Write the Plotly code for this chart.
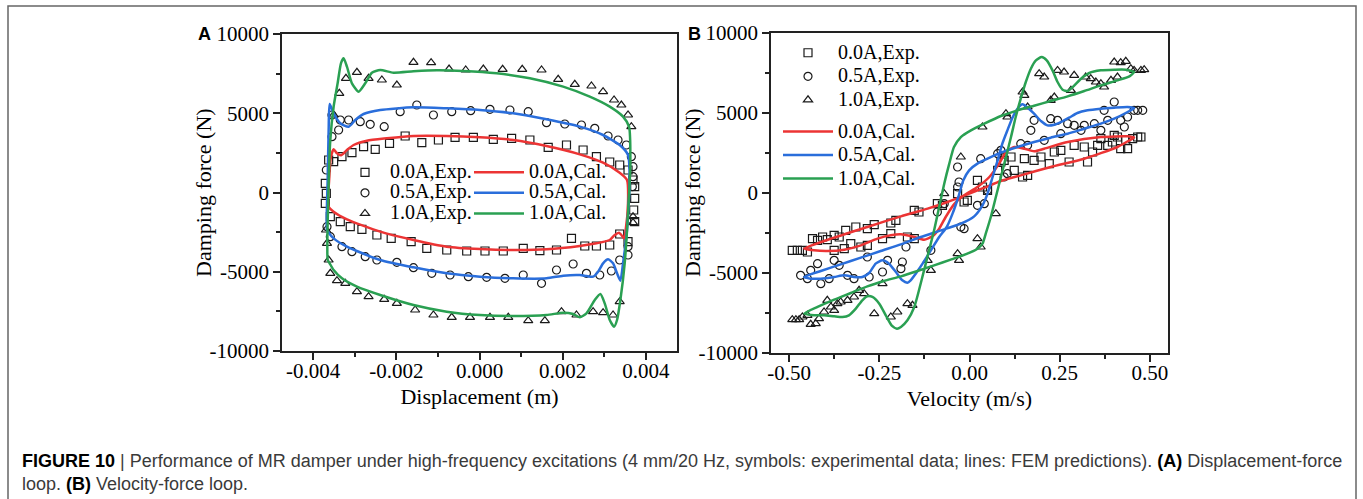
import plotly.graph_objects as go

# ---------------- Panel A: displacement (m) vs damping force (N) ----------------
a_cal00_x = [-0.003628, -0.003612, -0.003572, -0.003508, -0.003428, -0.003332, -0.003188, -0.003028, -0.002708,
             -0.002228, -0.001588, -0.000788, 0.000012, 0.000812, 0.001612, 0.002412, 0.002972, 0.003372, 0.003548,
             0.003572, 0.003516, 0.003476, 0.003412, 0.003356, 0.003252, 0.003132, 0.002812, 0.002412, 0.001612,
             0.000812, 0.000012, -0.000788, -0.001588, -0.002388, -0.003188, -0.003508]
a_cal00_y = [-894, 999, 2261, 2724, 2471, 2345, 2682, 2997, 3270, 3417, 3565, 3565, 3480, 3312, 2934, 2408, 1882,
             1251, 789, -683, -2366, -2892, -2681, -2534, -2681, -2997, -3207, -3375, -3586, -3628, -3565, -3417,
             -2997, -2471, -1693, -1209]

a_cal05_x = [-0.003668, -0.003652, -0.003628, -0.003604, -0.003508, -0.003348, -0.003148, -0.002988, -0.002788,
             -0.002388, -0.001588, -0.000788, 0.000012, 0.000812, 0.001612, 0.002412, 0.002972, 0.003372, 0.003572,
             0.003612, 0.003548, 0.003452, 0.003388, 0.003308, 0.003212, 0.003092, 0.002972, 0.002852, 0.002732,
             0.002572, 0.002412, 0.002012, 0.001612, 0.000812, 0.000012, -0.000788, -0.001588, -0.002388, -0.003188,
             -0.003508, -0.003628]
a_cal05_y = [-2366, 789, 3943, 5583, 4995, 4364, 4153, 4574, 4953, 5205, 5373, 5310, 5205, 4995, 4616, 4153, 3628,
             2997, 2366, 789, -2366, -4469, -5562, -5100, -4469, -4217, -4469, -4995, -5310, -5268, -5205, -5247,
             -5415, -5415, -5310, -5100, -4721, -4259, -3417, -2892, -2534]

a_cal10_x = [-0.00365, -0.003636, -0.003588, -0.003508, -0.003412, -0.003332, -0.003268, -0.003188, -0.003068,
             -0.002908, -0.002748, -0.002588, -0.002388, -0.002068, -0.001588, -0.001028, -0.000388, 0.000412,
             0.001212, 0.002012, 0.002652, 0.003132, 0.003452, 0.003596, 0.003628, 0.003572, 0.003492, 0.003388,
             0.003308, 0.003236, 0.003132, 0.003012, 0.002908, 0.002772, 0.002572, 0.002412, 0.002252, 0.002012,
             0.001612, 0.000812, 0.000012, -0.000788, -0.001588, -0.002388, -0.002948, -0.003308, -0.003508,
             -0.003604]
a_cal10_y = [-4259, -263, 3312, 5415, 6888, 8149, 8465, 7939, 6888, 6362, 6888, 7560, 7729, 7560, 7644, 7708, 7666,
             7518, 7203, 6677, 6046, 5415, 4785, 4154, 1840, -1314, -4469, -6783, -8044, -8465, -8044, -6993, -6404,
             -6783, -7624, -7876, -7666, -7582, -7729, -7792, -7729, -7518, -7098, -6467, -5941, -5415, -4890, -4469]

a_exp00_x = [-0.003628, -0.003508, -0.003308, -0.003068, -0.002788, -0.002508, -0.002164, -0.001788, -0.001388,
             -0.000988, -0.000588, -0.000148, 0.000332, 0.000772, 0.001212, 0.001652, 0.002092, 0.002492, 0.002812,
             0.003132, 0.003372, 0.003572, 0.003692, 0.003732, 0.003732, -0.003708, -0.003708, -0.003684,
             -0.003588, -0.003348, -0.003108, -0.002828, -0.002468, -0.002124, -0.001644, -0.001268, -0.000788,
             -0.000308, 0.000132, 0.000572, 0.001052, 0.001452, 0.001852, 0.002212, 0.002532, 0.002812, 0.003132,
             0.003372, 0.003572, 0.003708, 0.003732]
a_exp00_y = [2050, 1945, 2261, 2513, 2892, 2724, 3102, 3565, 3144, 3312, 3480, 3480, 3354, 3417, 3312, 2850, 2997,
             2682, 2261, 1924, 1735, 1420, 789, 368, -368, 578, -683, -53, -1525, -1840, -2156, -2324, -2681, -2892,
             -3102, -3522, -3628, -3691, -3691, -3691, -3522, -3670, -3628, -2892, -3375, -3375, -3312, -2618, -3102,
             -1104, -1840]

a_exp05_x = [-0.003548, -0.003548, -0.003388, -0.003348, -0.003148, -0.002868, -0.002628, -0.002292, -0.001908,
             -0.001508, -0.001108, -0.000668, -0.000212, 0.000252, 0.000732, 0.001172, 0.001612, 0.002052, 0.002452,
             0.002772, 0.003092, 0.003332, 0.003532, 0.003652, 0.003692, -0.003668, -0.003684, -0.003588, -0.003308,
             -0.003068, -0.002748, -0.002468, -0.001988, -0.001588, -0.001148, -0.000708, -0.000268, 0.000172,
             0.000612, 0.001052, 0.001492, 0.001852, 0.002252, 0.002572, 0.002892, 0.003172, 0.003372, 0.003572,
             0.003572, 0.003692, 0.003676]
a_exp05_y = [4890, 3522, 3943, 4574, 4574, 4469, 4301, 4153, 5100, 5520, 4890, 5100, 5163, 5247, 5205, 5100, 4406,
             4322, 4259, 4048, 3565, 3312, 2997, 2261, 1630, -2156, 1420, -2787, -3417, -3733, -4048, -4259, -4406,
             -4742, -5100, -5205, -5310, -5352, -5415, -5205, -5731, -4890, -4511, -5100, -5205, -4953, -4259, -3943,
             -3417, 999, 368]

a_exp10_x = [-0.003372, -0.003212, -0.002948, -0.002668, -0.002348, -0.001988, -0.001588, -0.001164, -0.000732,
             -0.000332, 0.000092, 0.000556, 0.001028, 0.001492, 0.001892, 0.002292, 0.002692, 0.002972, 0.003236,
             0.003412, 0.003572, 0.003652, -0.003508, -0.003692, -0.003668, -0.003628, -0.003588, -0.003428,
             -0.003228, -0.002948, -0.002668, -0.002292, -0.001988, -0.001548, -0.001108, -0.000668, -0.000228,
             0.000252, 0.000692, 0.001172, 0.001572, 0.001972, 0.002332, 0.002732, 0.002972, 0.003212, 0.003372,
             0.003692, 0.003692]
a_exp10_y = [6256, 7203, 7581, 7203, 7098, 6782, 8212, 8191, 7791, 7729, 7791, 7770, 7770, 7729, 7140, 6824, 6719,
             6362, 5836, 5520, 4890, 4153, 4890, -2366, -3207, -4259, -5100, -5562, -5731, -6256, -6572, -6740,
             -6993, -7413, -7729, -7876, -7876, -7876, -7876, -8086, -8086, -7518, -7729, -7518, -7581, -7729,
             -6887, -1525, -1903]

# ---------------- Panel B: velocity (m/s) vs damping force (N) ----------------
b_cal00_x = [-0.458, -0.375, -0.283, -0.190, -0.116, -0.061, -0.006, 0.041, 0.087, 0.142, 0.225, 0.318, 0.410,
             0.443, 0.456, 0.438, 0.364, 0.272, 0.207, 0.179, 0.152, 0.124, 0.101, 0.082, 0.055, 0.022, -0.015,
             -0.043, -0.066, -0.084, -0.103, -0.126, -0.153, -0.190, -0.218, -0.255, -0.301, -0.347, -0.394, -0.431]
b_cal00_y = [-3479, -2791, -2125, -1458, -979, -562, -83, 333, 750, 1104, 1625, 2145, 2875, 3291, 3458, 3541, 3499,
             3187, 2770, 2604, 2770, 2875, 2562, 1833, 1000, 375, -146, -708, -1500, -2229, -2708, -2916, -2750,
             -2583, -2645, -2854, -3270, -3541, -3624, -3583]

b_cal05_x = [-0.458, -0.412, -0.357, -0.301, -0.246, -0.190, -0.135, -0.079, -0.024, 0.013, 0.036, 0.050, 0.064,
             0.078, 0.091, 0.105, 0.119, 0.133, 0.147, 0.161, 0.179, 0.198, 0.216, 0.235, 0.253, 0.276, 0.299, 0.327,
             0.364, 0.401, 0.438, 0.456, 0.438, 0.401, 0.364, 0.318, 0.272, 0.225, 0.179, 0.133, 0.087, 0.050,
             0.022, -0.001, -0.017, -0.031, -0.047, -0.063, -0.084, -0.107, -0.130, -0.149, -0.163, -0.172, -0.186,
             -0.204, -0.223, -0.241, -0.260, -0.278, -0.297, -0.320, -0.347, -0.375, -0.412, -0.440]
b_cal05_y = [-5249, -4874, -4458, -4041, -3624, -3208, -2750, -2333, -1916, -1458, -771, -42, 1000, 2041, 3083,
             3916, 4708, 5270, 5541, 5332, 4958, 4499, 4229, 4270, 4437, 4708, 4999, 5166, 5270, 5332, 5374, 5312,
             5062, 4645, 4333, 4020, 3708, 3458, 3187, 2875, 2520, 2145, 1833, 1416, 792, -250, -1291, -2125, -2750,
             -3583, -4416, -5041, -5457, -5603, -5457, -4937, -4416, -4208, -4416, -4999, -5249, -5249, -5145, -5249,
             -5353, -5353]

b_cal10_x = [-0.458, -0.421, -0.375, -0.329, -0.283, -0.237, -0.190, -0.144, -0.098, -0.052, -0.006, 0.022, 0.036,
             0.045, 0.059, 0.073, 0.087, 0.101, 0.115, 0.128, 0.142, 0.156, 0.170, 0.184, 0.200, 0.214, 0.230, 0.244,
             0.258, 0.272, 0.288, 0.309, 0.332, 0.364, 0.401, 0.433, 0.456, 0.443, 0.410, 0.364, 0.318, 0.272, 0.225,
             0.179, 0.133, 0.087, 0.041, 0.004, -0.024, -0.043, -0.056, -0.070, -0.084, -0.098, -0.112, -0.126,
             -0.140, -0.153, -0.172, -0.190, -0.201, -0.216, -0.232, -0.250, -0.269, -0.283, -0.297, -0.315, -0.334,
             -0.352, -0.375, -0.403, -0.431]
b_cal10_y = [-7540, -7124, -6666, -6249, -5832, -5499, -5208, -4874, -4520, -4166, -3791, -3479, -3166, -2541, -1500,
             -250, 1000, 2250, 3499, 4749, 5895, 6936, 7770, 8290, 8499, 8290, 7665, 6936, 6457, 6374, 6666, 7145,
             7499, 7665, 7707, 7707, 7561, 7290, 7041, 6728, 6374, 6041, 5749, 5457, 5166, 4812, 4333, 3916, 3499,
             2875, 1833, 583, -875, -2333, -3583, -4833, -6082, -7124, -7957, -8374, -8478, -8270, -7645, -6916,
             -6499, -6457, -6707, -7228, -7645, -7749, -7707, -7645, -7645]

b_exp00_x = [-0.491, -0.477, -0.463, -0.449, -0.435, -0.421, -0.407, -0.394, -0.375, -0.361, -0.343, -0.329, -0.315,
             -0.301, -0.283, -0.264, -0.241, -0.218, -0.204, -0.218, -0.172, -0.153, -0.140, -0.153, -0.375, -0.347,
             -0.283, -0.089, -0.075, -0.015, -0.006, -0.033, 0.022, 0.036, 0.050, 0.078, 0.087, 0.096, 0.115, 0.124,
             0.147, 0.161, 0.152, 0.179, 0.198, 0.221, 0.235, 0.253, 0.276, 0.290, 0.318, 0.327, 0.341, 0.355, 0.364,
             0.383, 0.396, 0.410, 0.419, 0.433, 0.438, 0.452, 0.466, 0.475, 0.401]
b_exp00_y = [-3583, -3583, -3583, -3687, -2854, -2958, -2750, -2916, -2645, -2750, -2333, -3166, -2125, -3375, -2229,
             -1979, -2854, -1875, -1708, -2541, -2750, -1083, -1187, -2854, -3583, -3479, -3270, -667, -771, -562,
             -458, -42, 792, 375, 167, 1416, 1937, 2041, 2250, 1416, 1000, 1104, 2145, 2041, 2250, 1833, 2562, 2666,
             1937, 2979, 2875, 1937, 2562, 2979, 3395, 2979, 3187, 3499, 2770, 3291, 2770, 3395, 3499, 3499, 3604]

b_exp05_x = [-0.468, -0.449, -0.440, -0.421, -0.412, -0.389, -0.375, -0.361, -0.338, -0.320, -0.283, -0.278, -0.241,
             -0.227, -0.190, -0.186, -0.176, -0.107, -0.089, -0.070, -0.033, -0.033, -0.029, -0.024, -0.015, 0.022,
             0.031, 0.041, 0.050, 0.078, 0.087, 0.096, 0.105, 0.142, 0.161, 0.170, 0.179, 0.207, 0.225, 0.244, 0.253,
             0.272, 0.290, 0.309, 0.318, 0.346, 0.364, 0.373, 0.383, 0.401, 0.419, 0.429, 0.438, 0.456, 0.466, 0.480]
b_exp05_y = [-5145, -5353, -4833, -4416, -5666, -5353, -4208, -4520, -5145, -5353, -3999, -5249, -4937, -4208, -4728,
             -4312, -3375, -3583, -1187, -667, 375, 1625, 687, -2125, -2229, -771, 2145, -667, 167, 2458, 2666, 1000,
             1208, 3083, 2979, 3916, 4541, 3291, 4645, 4541, 3708, 4333, 4229, 3916, 4229, 4333, 3916, 5166, 4541,
             5687, 4541, 4124, 4749, 5166, 5166, 5166]

b_exp10_x = [-0.491, -0.481, -0.472, -0.463, -0.449, -0.440, -0.426, -0.417, -0.403, -0.394, -0.384, -0.375, -0.366,
             -0.357, -0.338, -0.320, -0.306, -0.292, -0.264, -0.241, -0.218, -0.200, -0.172, -0.158, -0.116, -0.107,
             -0.070, -0.033, -0.029, -0.024, 0.022, 0.031, 0.036, 0.073, 0.101, 0.105, 0.147, 0.152, 0.161, 0.193,
             0.207, 0.225, 0.235, 0.244, 0.262, 0.281, 0.290, 0.322, 0.336, 0.350, 0.364, 0.373, 0.392, 0.401, 0.410,
             0.419, 0.433, 0.447, 0.456, 0.475, 0.484]
b_exp10_y = [-7915, -7915, -7915, -7749, -7645, -8207, -8166, -7853, -7436, -6707, -7124, -7332, -6916, -6812, -6707,
             -6499, -6082, -6291, -7540, -5666, -7749, -7436, -6916, -7020, -4208, -4833, -42, -3791, -4208, 2250,
             -2854, -3375, 4124, -1291, 4958, 4749, 6312, 6103, 5374, 7457, 7249, 5791, 5999, 7665, 7561, 6416, 7353,
             7249, 7145, 6936, 6832, 6624, 7041, 8186, 7249, 8145, 8228, 7770, 7665, 7665, 7707]

# ---------------- tick labels / text ----------------
a_xticks = [-0.004, -0.002, 0.0, 0.002, 0.004]
a_xticktext = ["-0.004", "-0.002", "0.000", "0.002", "0.004"]
a_xminor = [-0.003, -0.001, 0.001, 0.003]
b_xticks = [-0.5, -0.25, 0.0, 0.25, 0.5]
b_xticktext = ["-0.50", "-0.25", "0.00", "0.25", "0.50"]
b_xminor = [-0.375, -0.125, 0.125, 0.375]
yticks = [-10000, -5000, 0, 5000, 10000]
yticktext = ["-10000", "-5000", "0", "5000", "10000"]
yminor = [-7500, -2500, 2500, 7500]

series_names = ["0.0A", "0.5A", "1.0A"]
line_colors = ["#ec3434", "#2a6edb", "#2aa052"]
symbols = ["square-open", "circle-open", "triangle-up-open"]

SERIF = "Liberation Serif, Times New Roman, serif"
SANS = "Liberation Sans, Arial, sans-serif"


def lname(t, size=20):
    return '<span style="font-size:%dpx">%s</span>' % (size, t)


def closed(v):
    return list(v) + [v[0]]


fig = go.Figure()

a_exp = [(a_exp00_x, a_exp00_y), (a_exp05_x, a_exp05_y), (a_exp10_x, a_exp10_y)]
a_cal = [(a_cal00_x, a_cal00_y), (a_cal05_x, a_cal05_y), (a_cal10_x, a_cal10_y)]
b_exp = [(b_exp00_x, b_exp00_y), (b_exp05_x, b_exp05_y), (b_exp10_x, b_exp10_y)]
b_cal = [(b_cal00_x, b_cal00_y), (b_cal05_x, b_cal05_y), (b_cal10_x, b_cal10_y)]


def marker_style(s):
    return dict(symbol=s, size=8, color="#1a1a1a", line=dict(width=1.2, color="#1a1a1a"))


for i, (xs, ys) in enumerate(a_exp):
    fig.add_trace(go.Scatter(x=xs, y=ys, mode="markers", marker=marker_style(symbols[i]),
                             name=lname(series_names[i] + ",Exp."), legend="legend",
                             xaxis="x", yaxis="y"))
for i, (xs, ys) in enumerate(a_cal):
    fig.add_trace(go.Scatter(x=closed(xs), y=closed(ys), mode="lines",
                             line=dict(color=line_colors[i], width=2.5, shape="spline", smoothing=0.6),
                             name=lname(series_names[i] + ",Cal."), legend="legend2",
                             xaxis="x", yaxis="y"))
for i, (xs, ys) in enumerate(b_exp):
    fig.add_trace(go.Scatter(x=xs, y=ys, mode="markers", marker=marker_style(symbols[i]),
                             name=lname(series_names[i] + ",Exp."), legend="legend3", legendgroup="exp",
                             xaxis="x2", yaxis="y2"))
for i, (xs, ys) in enumerate(b_cal):
    fig.add_trace(go.Scatter(x=closed(xs), y=closed(ys), mode="lines",
                             line=dict(color=line_colors[i], width=2.5, shape="spline", smoothing=0.6),
                             name=lname(series_names[i] + ",Cal."), legend="legend3", legendgroup="cal",
                             xaxis="x2", yaxis="y2"))

W, H = 1363, 499


def px(x):
    return x / W


def py(y):
    return 1 - y / H


axis_common = dict(showline=True, linecolor="#222", linewidth=1.5, mirror=True, ticks="outside", ticklen=7,
                   tickwidth=1.5, tickcolor="#222", showgrid=False, zeroline=False, tickmode="array",
                   automargin=False,
                   tickfont=dict(family=SERIF, size=21, color="black"),
                   title_font=dict(family=SERIF, size=22, color="black"))
minor_common = dict(ticks="outside", ticklen=4, tickwidth=1.5, tickcolor="#222", showgrid=False)

fig.update_layout(
    width=W, height=H, margin=dict(l=0, r=0, t=0, b=0, autoexpand=False),
    paper_bgcolor="white", plot_bgcolor="white",
    xaxis=dict(axis_common, domain=[px(282), px(677)], range=[-0.00475, 0.00475], anchor="y",
               tickvals=a_xticks, ticktext=a_xticktext, minor=dict(minor_common, tickvals=a_xminor),
               ticklabelstandoff=-7, title=dict(text="Displacement (m)", standoff=7)),
    yaxis=dict(axis_common, domain=[py(351), py(34)], range=[-10000, 10000], anchor="x",
               tickvals=yticks, ticktext=yticktext, minor=dict(minor_common, tickvals=yminor)),
    xaxis2=dict(axis_common, domain=[px(771), px(1168)], range=[-0.55, 0.55], anchor="y2",
                tickvals=b_xticks, ticktext=b_xticktext, minor=dict(minor_common, tickvals=b_xminor),
                ticklabelstandoff=-7, title=dict(text="Velocity (m/s)", standoff=7)),
    yaxis2=dict(axis_common, domain=[py(353), py(33)], range=[-10000, 10000], anchor="x2",
                tickvals=yticks, ticktext=yticktext, minor=dict(minor_common, tickvals=yminor)),
    legend=dict(x=px(340), y=py(157), xanchor="left", yanchor="top", bgcolor="rgba(0,0,0,0)", borderwidth=0,
                font=dict(family=SERIF, size=13.5, color="black"), itemwidth=40),
    legend2=dict(x=px(469), y=py(157), xanchor="left", yanchor="top", bgcolor="rgba(0,0,0,0)", borderwidth=0,
                 font=dict(family=SERIF, size=13.5, color="black"), itemwidth=50),
    legend3=dict(x=px(778), y=py(36), xanchor="left", yanchor="top", bgcolor="rgba(0,0,0,0)", borderwidth=0,
                 font=dict(family=SERIF, size=15.8, color="black"), itemwidth=50, tracegroupgap=8),
    shapes=[dict(type="rect", xref="paper", yref="paper", x0=px(8), x1=px(1356), y0=-0.1, y1=py(6),
                 line=dict(color="#666", width=1.5), fillcolor="rgba(0,0,0,0)", layer="below")],
    annotations=[
        dict(text="<b>A</b>", x=px(204), y=py(34), xref="paper", yref="paper", showarrow=False,
             xanchor="center", yanchor="middle", font=dict(family=SANS, size=18, color="black")),
        dict(text="<b>B</b>", x=px(694), y=py(34), xref="paper", yref="paper", showarrow=False,
             xanchor="center", yanchor="middle", font=dict(family=SANS, size=18, color="black")),
        dict(text="Damping force (N)", x=px(203), y=py(193), xref="paper", yref="paper", showarrow=False,
             textangle=-90, xanchor="center", yanchor="middle", font=dict(family=SERIF, size=22, color="black")),
        dict(text="Damping force (N)", x=px(692), y=py(193), xref="paper", yref="paper", showarrow=False,
             textangle=-90, xanchor="center", yanchor="middle", font=dict(family=SERIF, size=22, color="black")),
        dict(text='<span style="color:black"><b>FIGURE 10</b></span> | Performance of MR damper under '
                  "high-frequency excitations (4 mm/20 Hz, symbols: experimental data; lines: FEM predictions). "
                  '<span style="color:black"><b>(A)</b></span> Displacement-force<br>'
                  'loop. <span style="color:black"><b>(B)</b></span> Velocity-force loop.',
             x=px(20), y=py(449), xref="paper", yref="paper", xanchor="left", yanchor="top", align="left",
             showarrow=False, font=dict(family=SANS, size=18, color="#3a3a3a")),
    ],
)

fig.write_html("out.html")
